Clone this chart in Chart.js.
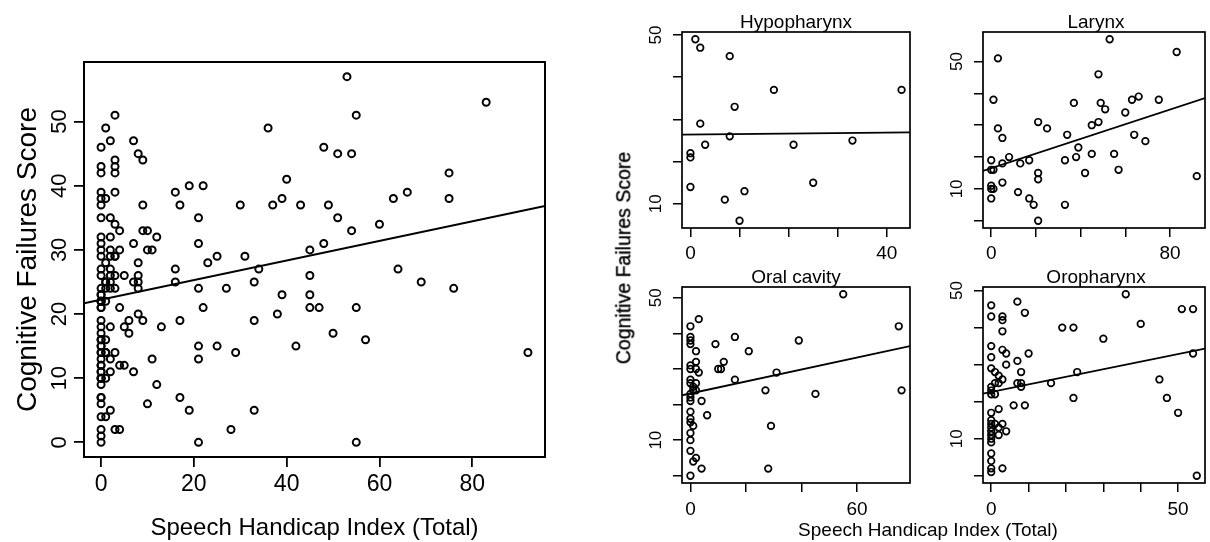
<!DOCTYPE html>
<html><head><meta charset="utf-8">
<script src="https://cdn.jsdelivr.net/npm/chart.js@4.4.1/dist/chart.umd.min.js"></script>
<style>
html,body{margin:0;padding:0;background:#fff;}
body{width:1210px;height:542px;position:relative;overflow:hidden;font-family:"Liberation Sans",Arial,sans-serif;}
canvas{position:absolute;}
.t{position:absolute;color:#000;white-space:nowrap;line-height:1;transform:translate(-50%,-50%);}
</style></head><body>
<canvas id="cMain"></canvas>
<canvas id="cHypo"></canvas>
<canvas id="cLar"></canvas>
<canvas id="cOral"></canvas>
<canvas id="cOro"></canvas>
<div class="t" id="tHypo" style="left:796px;top:20.5px;font-size:19px"></div>
<div class="t" id="tLar" style="left:1096px;top:20.5px;font-size:19px"></div>
<div class="t" id="tOral" style="left:796px;top:276px;font-size:19px"></div>
<div class="t" id="tOro" style="left:1096px;top:276px;font-size:19px"></div>
<div class="t" id="tX" style="left:928px;top:529px;font-size:19px"></div>
<div class="t" id="tY" style="left:624px;top:257.5px;font-size:19.5px;-webkit-text-stroke:0.35px #000;transform:translate(-50%,-50%) rotate(-90deg)"></div>
<script>
// ---- data: Speech Handicap Index (SHI) and Cognitive Failures Score (CFS) by tumour site ----
const hypoSHI = [1,2,8,17,43,9,2,8,3,21,33,0,0,0,25,7,11,10];
const hypoCFS = [49,47,45,37,37,33,29,26,24,24,25,22,21,14,15,11,13,6];

const larynxSHI = [53,83,3,48,1,37,49,51,63,66,75,60,48,45,21,25,3,5,34,64,69,39,38,45,55,33,57,42,92,0,5,8,13,17,0,1,21,21,5,0,0,1,12,0,17,19,33,21];
const larynxCFS = [57,53,51,46,38,37,37,35,38,39,38,34,31,30,31,29,29,26,27,27,25,23,20,21,21,19,16,15,14,19,18,20,18,19,16,16,15,13,12,11,10,10,9,7,7,5,5,0];

const oralSHI = [55,75,76,3,0,0,0,0,16,9,39,21,2,2,12,0,0,2,10,11,3,31,0,16,0,2,1,2,1,27,45,0,0,0,4,0,6,0,0,1,29,0,0,0,2,1,4,28,0];
const oralCFS = [51,42,24,44,42,39,38,37,39,37,38,35,35,32,32,31,30,30,30,30,29,29,27,27,26,26,25,24,24,24,23,23,22,21,21,18,17,16,15,14,14,12,10,7,5,4,2,2,0];

const oroSHI = [36,0,7,9,0,3,3,3,51,54,40,19,22,30,0,3,4,10,54,0,7,4,0,1,8,23,2,3,45,1,2,7,8,16,8,0,0,0,1,22,47,6,9,50,2,0,0,0,3,1,0,2,4,0,2,0,0,0,0,0,0,3,0,55];
const oroCFS = [49,46,47,44,43,43,42,39,45,45,41,40,40,37,35,34,33,33,33,32,31,30,29,28,28,28,27,26,26,25,25,25,25,25,24,24,23,22,22,21,21,19,19,17,18,17,15,14,14,14,13,13,12,12,11,11,10,9,6,4,2,2,1,0];

// all patients (left panel)
const allSHI = [].concat(hypoSHI, larynxSHI, oralSHI, oroSHI);
const allCFS = [].concat(hypoCFS, larynxCFS, oralCFS, oroCFS);

// ---- tick values and labels ----
const mainXTicks = [0,20,40,60,80];
const mainYTicks = [0,10,20,30,40,50];
const hypoXTicks = [0,10,20,30,40];   const hypoXLabels = [0,40];
const hypoYTicks = [10,20,30,40,50];
const larXTicks  = [0,20,40,60,80];   const larXLabels  = [0,80];
const oralXTicks = [0,20,40,60];      const oralXLabels = [0,60];
const oroXTicks  = [0,10,20,30,40,50];const oroXLabels  = [0,50];
const panelYTicks = [0,10,20,30,40,50];
const panelYLabels = [10,50];

const panelTitles = ['Hypopharynx','Larynx','Oral cavity','Oropharynx'];
const xTitle = 'Speech Handicap Index (Total)';
const yTitle = 'Cognitive Failures Score';

const FF = '"Liberation Sans", Arial, Helvetica, sans-serif';

function rRange(a){const mn=Math.min(...a), mx=Math.max(...a), d=(mx-mn)*0.04; return [mn-d, mx+d];}
function ols(xs, ys){
  const n=xs.length; let sx=0,sy=0; for(let i=0;i<n;i++){sx+=xs[i];sy+=ys[i];}
  const mx=sx/n, my=sy/n; let sxy=0,sxx=0;
  for(let i=0;i<n;i++){sxy+=(xs[i]-mx)*(ys[i]-my); sxx+=(xs[i]-mx)*(xs[i]-mx);}
  const b=sxy/sxx; return {a:my-b*mx, b};
}

const boxPlugin = {
  id:'box',
  afterDatasetsDraw(chart, args, opts){
    const a=chart.chartArea, ctx=chart.ctx;
    ctx.save(); ctx.strokeStyle='#000'; ctx.lineWidth=opts.w||1.5;
    ctx.strokeRect(a.left, a.top, a.right-a.left, a.bottom-a.top);
    ctx.restore();
  }
};

function makeChart(id, c){
  const cv=document.getElementById(id);
  cv.style.left=c.cl+'px'; cv.style.top=c.ct+'px';
  cv.width=c.cw; cv.height=c.ch; cv.style.width=c.cw+'px'; cv.style.height=c.ch+'px';
  const [xmin,xmax]=rRange(c.xs), [ymin,ymax]=rRange(c.ys);
  const f=ols(c.xs,c.ys);
  const pts=c.xs.map((x,i)=>({x, y:c.ys[i]}));
  return new Chart(cv, {
    type:'scatter',
    data:{datasets:[
      {data:pts, pointStyle:'circle', pointRadius:c.r, pointHoverRadius:c.r, pointBorderWidth:c.pbw,
       pointBorderColor:'#000', pointBackgroundColor:'rgba(0,0,0,0)', showLine:false},
      {data:[{x:xmin,y:f.a+f.b*xmin},{x:xmax,y:f.a+f.b*xmax}], showLine:true, pointRadius:0,
       borderColor:'#000', borderWidth:c.lw, fill:false}
    ]},
    options:{
      responsive:false, animation:false, devicePixelRatio:1, events:[],
      layout:{padding:{left:0, top:c.at-c.ct, right:c.cl+c.cw-c.ar, bottom:0}},
      plugins:{legend:{display:false}, tooltip:{enabled:false}, box:{w:c.bw}},
      scales:{
        x:{type:'linear', position:'bottom', min:xmin, max:xmax, bounds:'data',
          afterBuildTicks:s=>{s.ticks=c.xTicks.map(v=>({value:v}));},
          afterFit:s=>{s.height=c.ct+c.ch-c.ab;},
          ticks:{autoSkip:false, maxRotation:0, minRotation:0, padding:c.xPad, color:'#000',
            font:{family:FF, size:c.xFont, lineHeight:1},
            callback:v=>(c.xLabels.indexOf(v)>=0?String(v):'')},
          grid:{display:true, drawOnChartArea:false, drawTicks:true, tickLength:c.tl, tickWidth:c.tw, color:'#000', lineWidth:c.tw},
          border:{display:false},
          title:c.xTitle?{display:true, text:c.xTitle, color:'#000', font:{family:FF,size:c.xtFont,lineHeight:1}, padding:{top:0,bottom:c.xtPad}}:{display:false}
        },
        y:{type:'linear', position:'left', min:ymin, max:ymax, bounds:'data',
          afterBuildTicks:s=>{s.ticks=c.yTicks.map(v=>({value:v}));},
          afterFit:s=>{s.width=c.al-c.cl;},
          ticks:{autoSkip:false, minRotation:90, maxRotation:90, crossAlign:'center', padding:c.yPad, color:'#000',
            font:{family:FF, size:c.yFont, lineHeight:1},
            callback:v=>(c.yLabels.indexOf(v)>=0?String(v):'')},
          grid:{display:true, drawOnChartArea:false, drawTicks:true, tickLength:c.tl, tickWidth:c.tw, color:'#000', lineWidth:c.tw},
          border:{display:false},
          title:c.yTitle?{display:true, text:c.yTitle, color:'#000', font:{family:FF,size:c.ytFont,lineHeight:1}, padding:{top:c.ytPad,bottom:0}}:{display:false}
        }
      }
    },
    plugins:[boxPlugin]
  });
}

// left panel: all patients
makeChart('cMain', {cl:0, ct:0, cw:560, ch:542, al:84, at:62, ar:545, ab:457,
  xs:allSHI, ys:allCFS, xTicks:mainXTicks, xLabels:mainXTicks, yTicks:mainYTicks, yLabels:mainYTicks,
  r:3.5, pbw:2, lw:2.2, bw:2, tl:10, tw:1.8, xFont:23, yFont:22, xPad:6, yPad:2,
  xTitle:xTitle, xtFont:24, xtPad:2, yTitle:yTitle, ytFont:28, ytPad:14});

const small = {r:3.3, pbw:1.7, lw:1.8, bw:1.7, tl:9, tw:1.5, xFont:19, yFont:17, yPad:7};
makeChart('cHypo', Object.assign({}, small, {cl:630, ct:0, cw:285, ch:265, al:682, at:32, ar:910, ab:228,
  xs:hypoSHI, ys:hypoCFS, xTicks:hypoXTicks, xLabels:hypoXLabels, yTicks:hypoYTicks, yLabels:panelYLabels, xPad:7}));
makeChart('cLar', Object.assign({}, small, {cl:930, ct:0, cw:280, ch:265, al:983, at:32, ar:1209, ab:228,
  xs:larynxSHI, ys:larynxCFS, xTicks:larXTicks, xLabels:larXLabels, yTicks:panelYTicks, yLabels:panelYLabels, xPad:7}));
makeChart('cOral', Object.assign({}, small, {cl:630, ct:270, cw:285, ch:272, al:682, at:287, ar:910, ab:483,
  xs:oralSHI, ys:oralCFS, xTicks:oralXTicks, xLabels:oralXLabels, yTicks:panelYTicks, yLabels:panelYLabels, xPad:8}));
makeChart('cOro', Object.assign({}, small, {cl:930, ct:270, cw:280, ch:272, al:983, at:287, ar:1209, ab:483,
  xs:oroSHI, ys:oroCFS, xTicks:oroXTicks, xLabels:oroXLabels, yTicks:panelYTicks, yLabels:panelYLabels, xPad:8}));

document.getElementById('tHypo').textContent=panelTitles[0];
document.getElementById('tLar').textContent=panelTitles[1];
document.getElementById('tOral').textContent=panelTitles[2];
document.getElementById('tOro').textContent=panelTitles[3];
document.getElementById('tX').textContent=xTitle;
document.getElementById('tY').textContent=yTitle;
</script>
</body></html>
